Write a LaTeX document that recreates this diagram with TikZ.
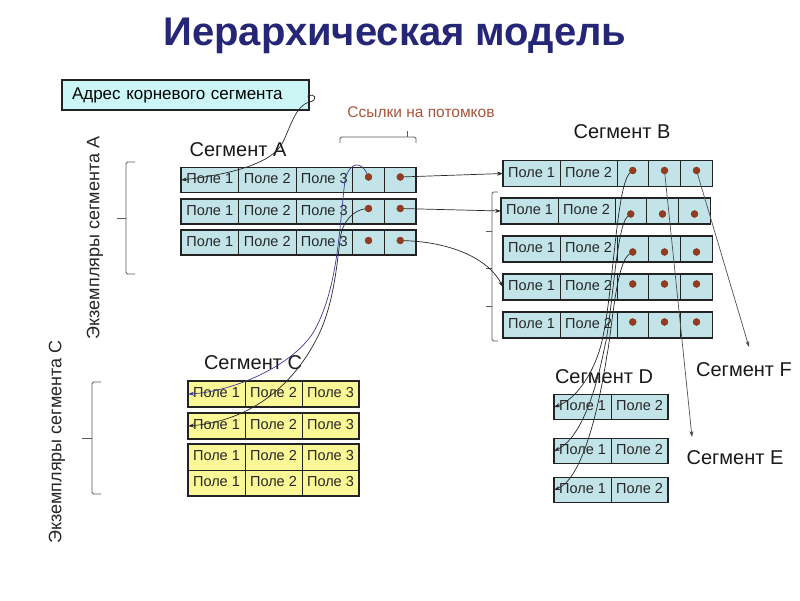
\documentclass[tikz,border=0pt]{standalone}
\usepackage{fontspec}
\setmainfont{Liberation Sans}
\usetikzlibrary{arrows.meta,calc}
\definecolor{cyanfill}{RGB}{194,228,232}
\definecolor{rootfill}{RGB}{204,246,246}
\definecolor{yelfill}{RGB}{250,247,150}
\definecolor{framecol}{RGB}{35,35,35}
\definecolor{dotcol}{RGB}{150,60,30}
\definecolor{titlecol}{RGB}{38,38,118}
\definecolor{linkcol}{RGB}{40,40,40}
\definecolor{bluecol}{RGB}{60,60,150}
\definecolor{graycol}{RGB}{80,80,80}
\definecolor{bracketcol}{RGB}{90,90,90}
\definecolor{refcol}{RGB}{165,85,60}
\begin{document}
\begin{tikzpicture}[x=1pt,y=-1pt,
  cell/.style={draw=framecol, line width=0.7pt, inner sep=0pt, outer sep=0pt,
    minimum height=25pt, anchor=west, text=black!85, text height=10.5pt, text depth=3pt,
    font=\fontsize{14.5}{16}\selectfont},
  cyancell/.style={cell, fill=cyanfill},
  yelcell/.style={cell, fill=yelfill},
  rowframe/.style={draw=framecol, line width=1.8pt},
  dot/.style={circle, fill=dotcol, draw=dotcol!70!black, line width=0.3pt,
    inner sep=0pt, minimum size=7pt},
  seglabel/.style={font=\fontsize{20}{23}\selectfont, text=black!90},
  sidelabel/.style={font=\fontsize{18}{20}\selectfont, text=black!85, rotate=90},
  link/.style={draw=linkcol, line width=0.7pt, -{Stealth[length=6pt,width=4pt]}},
  bluelink/.style={link, draw=bluecol},
  graylink/.style={link, draw=graycol},
  bracket/.style={draw=bracketcol, line width=0.8pt, rounded corners=1.5pt}
]
\fill[white] (0,0) rectangle (800,600);
\useasboundingbox (0,0) rectangle (800,600);

% title
\node[font=\bfseries\fontsize{40}{45}\selectfont, text=titlecol] (title) at (395,36) {Иерархическая модель};

% root address
\node[draw=framecol, line width=1.2pt, fill=rootfill, minimum width=247pt, minimum height=30pt,
  text width=227pt, inner xsep=10pt, align=left, font=\fontsize{17}{19}\selectfont] (root) at (185.5,95)
  {Адрес корневого сегмента};

% labels
\node[font=\fontsize{15.5}{17}\selectfont, text=refcol] (refs) at (421,112) {Ссылки на потомков};
\node[seglabel] (labA) at (238,150) {Сегмент А};
\node[seglabel] (labB) at (622,132) {Сегмент В};
\node[seglabel] (labC) at (253,363) {Сегмент С};
\node[seglabel] (labD) at (604,377) {Сегмент D};
\node[seglabel] (labF) at (744,370) {Сегмент F};
\node[seglabel] (labE) at (735,458) {Сегмент E};
\node[sidelabel] (instA) at (95,238) {Экземпляры сегмента А};
\node[sidelabel] (instC) at (57,442) {Экземпляры сегмента С};

% brackets
\draw[bracket] (340,143) -- (340,137) -- (416,137) -- (416,143);
\draw[bracket] (407,137) -- (407,131);
\draw[bracket] (135,162) -- (126,162) -- (126,274) -- (135,274);
\draw[bracket] (126,218) -- (117,218);
\draw[bracket] (101,382) -- (92,382) -- (92,494) -- (101,494);
\draw[bracket] (92,438) -- (82,438);
\draw[bracket] (498,192) -- (492,192) -- (492,341) -- (498,341);
\draw[bracket] (492,231) -- (486,231);
\draw[bracket] (492,268) -- (486,268);
\draw[bracket] (492,306) -- (486,306);

% segment A
\foreach \r/\y/\dy in {1/180/3, 2/211.5/3, 3/242.5/2}{
  \node[cyancell, minimum width=57.5pt] (a\r-f1) at (181,\y) {Поле 1};
  \node[cyancell, minimum width=57.5pt] (a\r-f2) at (a\r-f1.east) {Поле 2};
  \node[cyancell, minimum width=56.5pt] (a\r-f3) at (a\r-f2.east) {Поле 3};
  \node[cyancell, minimum width=32pt] (a\r-p1) at (a\r-f3.east) {};
  \node[cyancell, minimum width=31.5pt] (a\r-p2) at (a\r-p1.east) {};
  \draw[rowframe] (a\r-f1.north west) rectangle (a\r-p2.south east);
  \node[dot] (a\r-d1) at ([yshift=\dy pt]a\r-p1.center) {};
  \node[dot] (a\r-d2) at ([yshift=\dy pt]a\r-p2.center) {};
}

% segment B
\foreach \r/\x/\y/\dy in {1/503/173.5/3, 2/501/211/-3, 3/503/249/-3, 4/503/287/3, 5/503/325/3}{
  \node[cyancell, minimum width=57pt, minimum height=26pt] (b\r-f1) at (\x,\y) {Поле 1};
  \node[cyancell, minimum width=57pt, minimum height=26pt] (b\r-f2) at (b\r-f1.east) {Поле 2};
  \node[cyancell, minimum width=31.5pt, minimum height=26pt] (b\r-p1) at (b\r-f2.east) {};
  \node[cyancell, minimum width=32pt, minimum height=26pt] (b\r-p2) at (b\r-p1.east) {};
  \node[cyancell, minimum width=32pt, minimum height=26pt] (b\r-p3) at (b\r-p2.east) {};
  \draw[rowframe] (b\r-f1.north west) rectangle (b\r-p3.south east);
  \node[dot] (b\r-d1) at ([yshift=\dy pt]b\r-p1.center) {};
  \node[dot] (b\r-d2) at ([yshift=\dy pt]b\r-p2.center) {};
  \node[dot] (b\r-d3) at ([yshift=\dy pt]b\r-p3.center) {};
}

% segment C
\foreach \r/\y in {1/394, 2/426, 3/457, 4/483}{
  \node[yelcell, minimum width=57pt, minimum height=26pt] (c\r-f1) at (188,\y) {Поле 1};
  \node[yelcell, minimum width=57pt, minimum height=26pt] (c\r-f2) at (c\r-f1.east) {Поле 2};
  \node[yelcell, minimum width=57pt, minimum height=26pt] (c\r-f3) at (c\r-f2.east) {Поле 3};
}
\draw[rowframe] (c1-f1.north west) rectangle (c1-f3.south east);
\draw[rowframe] (c2-f1.north west) rectangle (c2-f3.south east);
\draw[rowframe] (c3-f1.north west) rectangle (c4-f3.south east);

% segment D
\foreach \r/\y in {1/407, 2/451, 3/490}{
  \node[cyancell, minimum width=57pt] (d\r-f1) at (554,\y) {Поле 1};
  \node[cyancell, minimum width=57pt] (d\r-f2) at (d\r-f1.east) {Поле 2};
  \draw[rowframe] (d\r-f1.north west) rectangle (d\r-f2.south east);
}

% connectors
\draw[link] ([shift={(-2pt,-2pt)}]root.east) .. controls (315,91) and (319,101) .. (309,102)
  .. controls (296,106) and (291,125) .. (283,142)
  .. controls (272,165) and (225,175) .. (a1-f1.west);
\draw[bluelink] (a1-d1) .. controls (362,162) and (350,160) .. (345,180)
  .. controls (339,230) and (338,290) .. (313,333)
  .. controls (290,368) and (230,392) .. (c1-f1.west);
\draw[link] (a2-d1) .. controls (355,210) and (342,220) .. (340,240)
  .. controls (336,275) and (332,305) .. (320,332)
  .. controls (300,375) and (260,420) .. (c2-f1.west);
\draw[link] (a1-d2) -- (b1-f1.west);
\draw[link] (a2-d2) -- (b2-f1.west);
\draw[link] (a3-d2) .. controls (450,242) and (488,258) .. (b4-f1.west);

\coordinate (fend) at (749,347);
\coordinate (eend) at (692,437);
\draw[graylink] (b1-d3) -- (fend);
\draw[graylink] (b1-d2) -- (eend);
\draw[link] (b1-d1) .. controls (616,185) and (613,300) .. (601,345)
  .. controls (593,375) and (575,400) .. (d1-f1.west);
\draw[link] (b2-d1) .. controls (616,225) and (612,320) .. (604,350)
  .. controls (594,400) and (578,440) .. (d2-f1.west);
\draw[link] (b3-d1) .. controls (616,262) and (612,330) .. (607,355)
  .. controls (597,420) and (580,480) .. (d3-f1.west);
\end{tikzpicture}
\end{document}
